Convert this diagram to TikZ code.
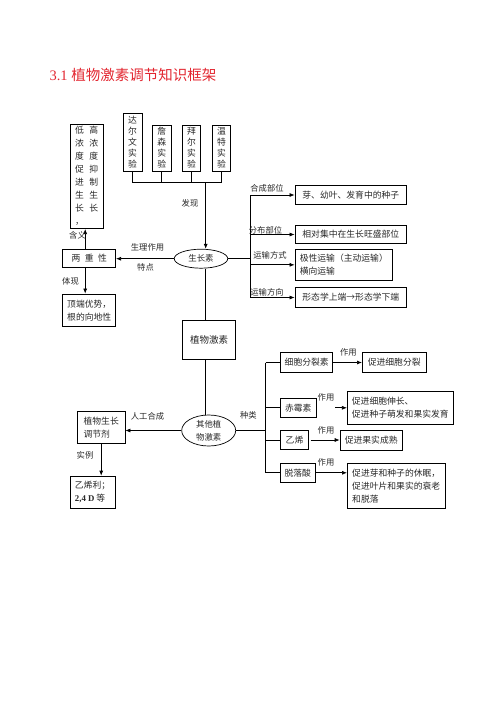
\documentclass[tikz,border=0pt]{standalone}
\usepackage{fontspec}
\setmainfont{Liberation Serif}
\newfontfamily\cjk{Noto Sans CJK SC}
\usepackage{xcolor}
\usetikzlibrary{shapes.geometric,arrows.meta}
\definecolor{titlered}{RGB}{226,38,48}
\definecolor{ink}{RGB}{40,40,40}

\begin{document}
\begin{tikzpicture}[x=1pt, y=-1pt,
  rbox/.style={draw, line width=0.7pt, inner sep=0pt, align=left, text=ink, font=\cjk\fontsize{8.8}{13}\selectfont},
  vbox/.style={rbox, align=center, font=\cjk\fontsize{8.8}{11}\selectfont},
  oval/.style={ellipse, draw, line width=0.7pt, inner sep=0pt, align=center, text=ink, font=\cjk\fontsize{8.4}{13}\selectfont},
  lbl/.style={inner sep=0pt, text=ink, font=\cjk\fontsize{8.3}{10}\selectfont},
  link/.style={line width=0.7pt},
  arr/.style={link, -{Latex[length=5pt,width=4pt]}}]

\useasboundingbox (0,0) rectangle (496,702);

\node[anchor=west, text=titlered, font=\fontsize{14.5}{16}\selectfont] (title) at (46,75) {3.1 {\cjk 植物激素调节知识框架}};

\node[vbox, minimum width=19, minimum height=58] (darwin) at (132.5,142) {达\\尔\\文\\实\\验};
\node[vbox, minimum width=19, minimum height=46] (jensen) at (161.8,148) {詹\\森\\实\\验};
\node[vbox, minimum width=18.5, minimum height=46] (boysen) at (191.5,148) {拜\\尔\\实\\验};
\node[vbox, minimum width=18.5, minimum height=46] (went) at (221.5,148) {温\\特\\实\\验};

\node[oval, minimum width=53.5, minimum height=19] (auxin) at (201,258.7) {生长素};

\coordinate (find) at (205.7,182.7);
\draw[link] (darwin.south) |- (find) -| (went.south);
\foreach \n in {jensen,boysen}
  \draw[link] (\n.south) -- (\n.south |- find);
\draw[arr] (find) -- (find |- auxin.north);
\node[lbl] (findLbl) at (190,203.3) {发现};

\node[rbox, minimum width=33.3, minimum height=90] (meaning) at (86.7,176.7)
  {\begin{tabular}{@{}c@{\hspace{5.5pt}}c@{}}
   低&高\\ 浓&浓\\ 度&度\\ 促&抑\\ 进&制\\ 生&生\\ 长&长\\ ，&
   \end{tabular}};
\node[rbox, minimum width=53, minimum height=18.7] (dual) at (89.2,258.3) {两\hspace{4.5pt}重\hspace{4.5pt}性};
\node[rbox, minimum width=53, minimum height=32.7] (apex) at (89.2,310.3) {顶端优势，\\根的向地性};

\draw[arr] (auxin.west) -- (auxin.west -| dual.east);
\node[lbl] (roleLbl) at (147.5,247.7) {生理作用};
\node[lbl] (featLbl) at (145.5,267.7) {特点};
\draw[arr] ([xshift=-4]dual.north) -- ([xshift=-4]dual.north |- meaning.south);
\node[lbl] (meanLbl) at (77.5,235) {含义};
\draw[arr] ([xshift=-4]dual.south) -- ([xshift=-4]dual.south |- apex.north);
\node[lbl] (showLbl) at (70.5,281) {体现};

\node[rbox, minimum width=111.7, minimum height=19] (synth) at (350.8,195) {芽、幼叶、发育中的种子};
\node[rbox, minimum width=111.7, minimum height=17.5] (distrib) at (350.8,234.5) {相对集中在生长旺盛部位};
\node[rbox, minimum width=97.7, minimum height=31.7] (mode) at (343.8,264.8) {极性运输（主动运输）\\横向运输};
\node[rbox, minimum width=111.7, minimum height=19.6] (dir) at (350.8,297.5) {形态学上端→形态学下端};

\coordinate (hub) at (250.7,0);
\draw[link] (auxin.east) -- (auxin.east -| hub);
\draw[link] (hub |- synth.west) -- (hub |- dir.west);
\foreach \n in {synth,distrib,mode,dir}
  \draw[arr] (hub |- \n.west) -- (\n.west);
\node[lbl] (synthLbl) at (267,188.3) {合成部位};
\node[lbl] (distribLbl) at (265.5,230) {分布部位};
\node[lbl] (modeLbl) at (270,255) {运输方式};
\node[lbl] (dirLbl) at (267,292.5) {运输方向};

\node[rbox, minimum width=53.5, minimum height=39.3, font=\cjk\fontsize{9.5}{12}\selectfont] (hormone) at (209,339.7) {植物激素};
\node[oval, minimum width=54, minimum height=31] (other) at (208.7,430.5) {其他植\\物激素};
\draw[link] (find |- auxin.south) -- (find |- hormone.north);
\draw[link] (find |- hormone.south) -- (find |- other.north);

\node[rbox, minimum width=47.7, minimum height=31.6] (regulator) at (101.2,427.5) {植物生长\\调节剂};
\node[rbox, minimum width=45, minimum height=32.3] (ethephon) at (92.5,492.2) {乙烯利；\\{\rmfamily\bfseries 2,4 D} 等};
\draw[arr] (other.west) -- (other.west -| regulator.east);
\node[lbl] (artLbl) at (147.5,416) {人工合成};
\draw[arr] (regulator.south) -- (regulator.south |- ethephon.north);
\node[lbl] (caseLbl) at (85,455.7) {实例};

\node[rbox, minimum width=52, minimum height=19.6] (cyto) at (306.7,362.5) {细胞分裂素};
\node[rbox, minimum width=63.7, minimum height=19.6] (cytoEff) at (394.2,362.5) {促进细胞分裂};
\node[rbox, minimum width=35.3, minimum height=19] (gib) at (298.3,407.8) {赤霉素};
\node[rbox, minimum width=106, minimum height=32.3] (gibEff) at (400.3,407.8) {促进细胞伸长、\\促进种子萌发和果实发育};
\node[rbox, minimum width=27.6, minimum height=19.3] (eth) at (294.5,440) {乙烯};
\node[rbox, minimum width=62.3, minimum height=20] (ethEff) at (371.2,440) {促进果实成熟};
\node[rbox, minimum width=34.3, minimum height=19] (absc) at (297.8,472.8) {脱落酸};
\node[rbox, minimum width=97.7, minimum height=45] (abscEff) at (396.2,485.8) {促进芽和种子的休眠，\\促进叶片和果实的衰老\\和脱落};

\coordinate (kind) at (265.7,0);
\draw[link] (other.east) -- (other.east -| kind);
\node[lbl] (kindLbl) at (248.3,415) {种类};
\draw[link] (kind |- cyto.west) -- (kind |- absc.west);
\foreach \n in {cyto,gib,eth,absc}
  \draw[link] (kind |- \n.west) -- (\n.west);

\draw[arr] (cyto.east) -- (cytoEff.west);
\draw[arr, shorten <=19] (gib.east) -- (gibEff.west);
\draw[arr, shorten <=2] (eth.east) -- (ethEff.west);
\draw[arr] (absc.east) -- (absc.east -| abscEff.west);
\node[lbl] (useA) at (348.3,352.3) {作用};
\node[lbl] (useB) at (326,397.7) {作用};
\node[lbl] (useC) at (326,430) {作用};
\node[lbl] (useD) at (326,462.7) {作用};
\end{tikzpicture}
\end{document}
